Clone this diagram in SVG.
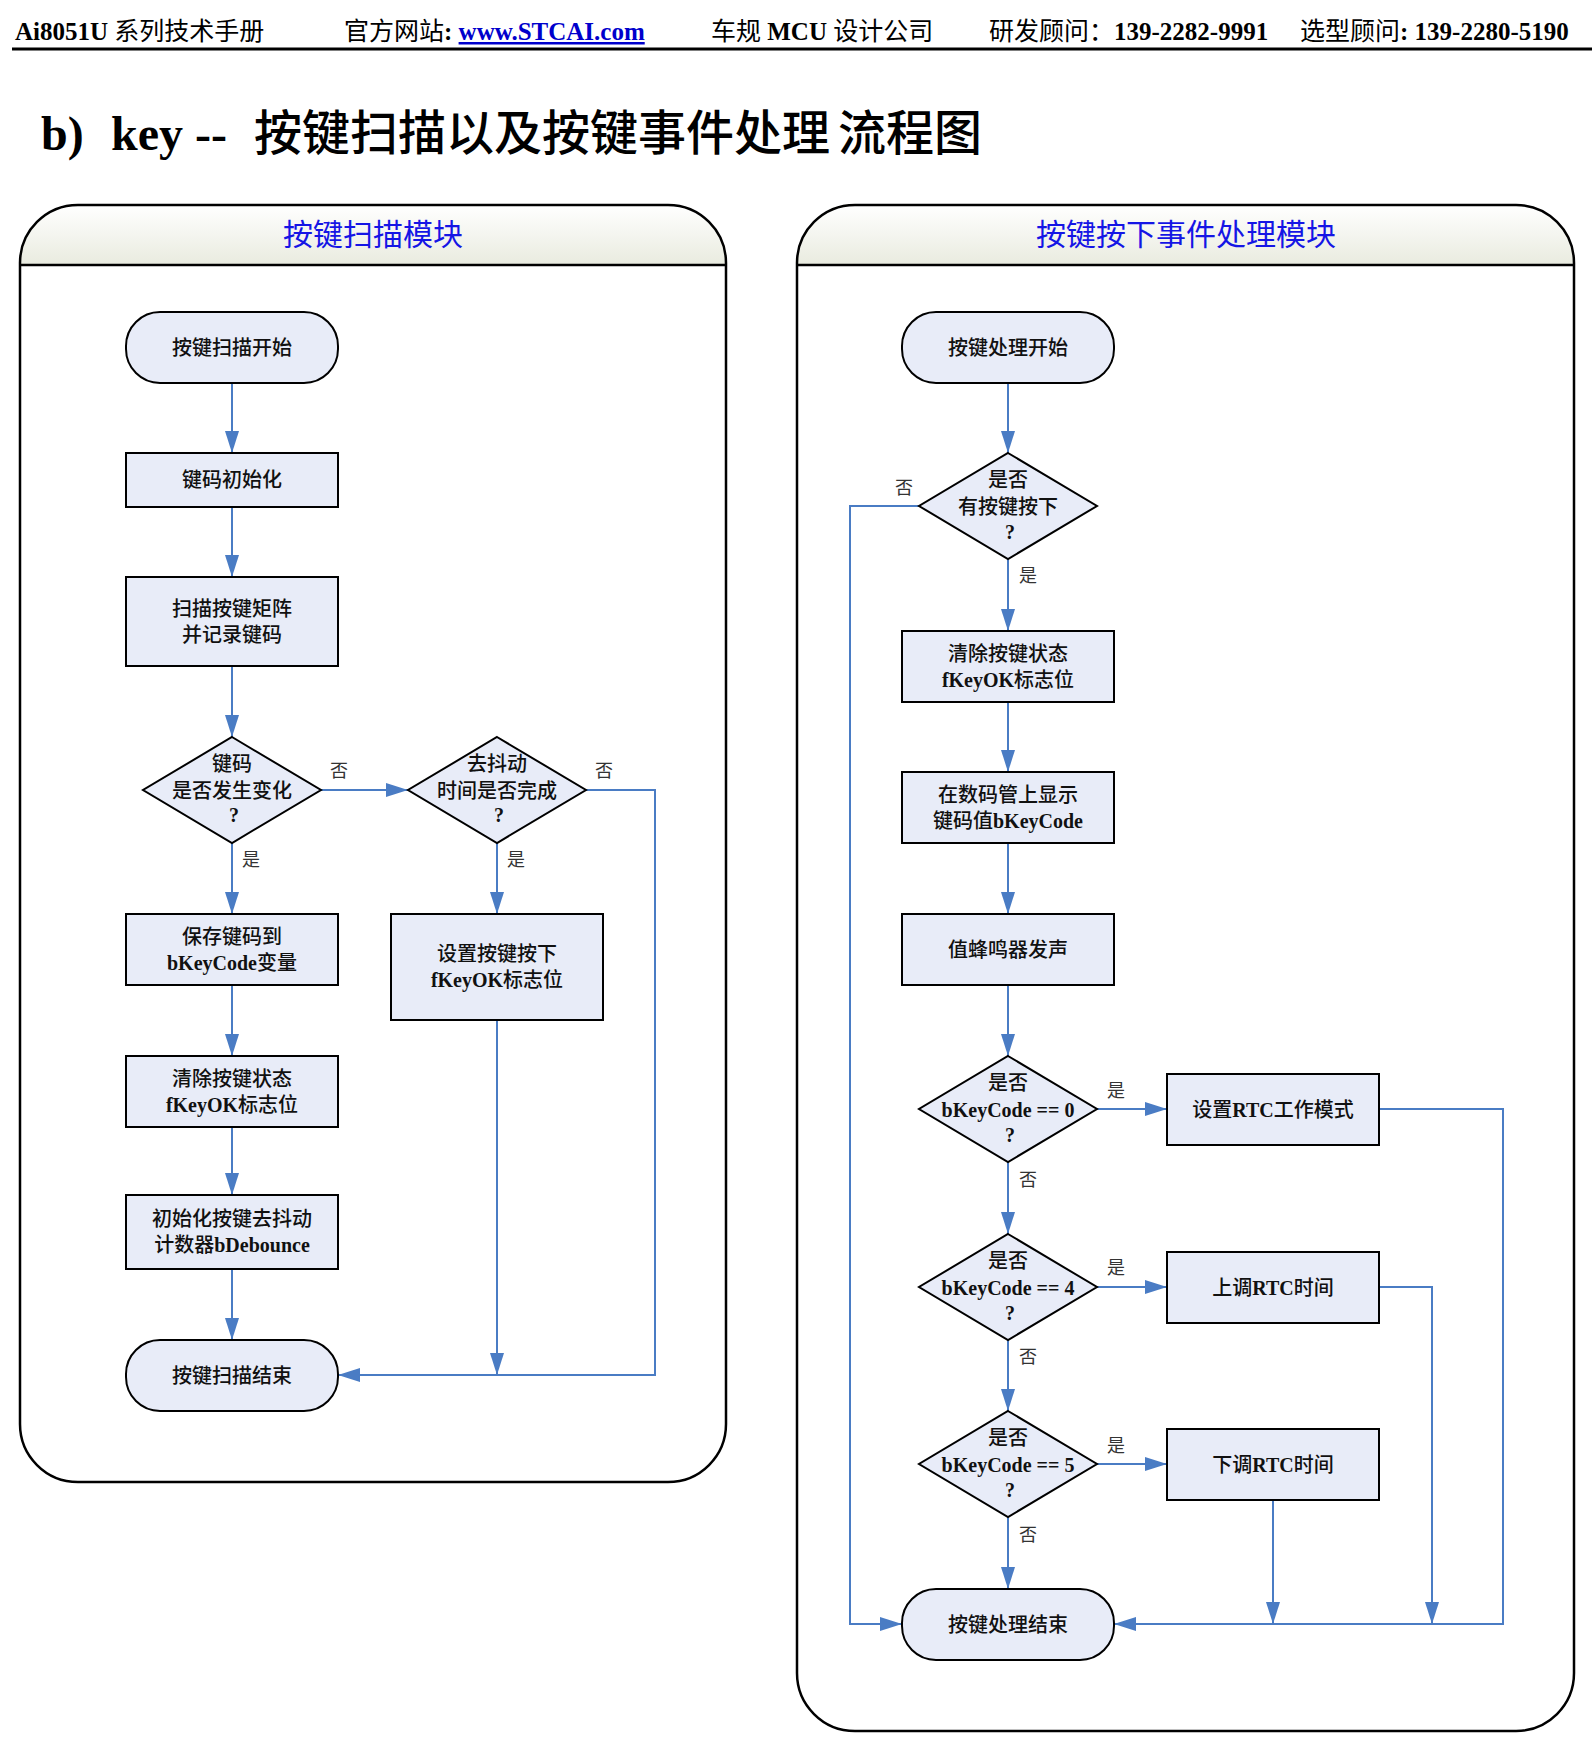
<svg xmlns="http://www.w3.org/2000/svg" width="1592" height="1745" viewBox="0 0 1592 1745">
<defs>
<linearGradient id="hdr" x1="0" y1="0" x2="0" y2="1">
<stop offset="0" stop-color="#ffffff"/>
<stop offset="1" stop-color="#e9ebdf"/>
</linearGradient>
<marker id="ah" viewBox="0 0 22 14" refX="22" refY="7" markerWidth="22" markerHeight="14" markerUnits="userSpaceOnUse" orient="auto">
<path d="M0,0 L22,7 L0,14 z" fill="#4a7cc4"/>
</marker>
</defs>
<style>
.panel{fill:none;stroke:#000;stroke-width:2.5}
.ph{fill:url(#hdr);stroke:none}
.div{stroke:#000;stroke-width:2.5}
.ptitle{font-family:"Noto Sans CJK SC",sans-serif;font-size:30px;fill:#1515e5;text-anchor:middle}
.node{fill:#e8ecf8;stroke:#000;stroke-width:2}
.t{font-family:"Liberation Serif","Noto Sans CJK SC",serif;font-size:20px;font-weight:500;fill:#111;text-anchor:middle}
.b{font-weight:bold}
.conn{fill:none;stroke:#4a7cc4;stroke-width:2}
.arr{marker-end:url(#ah)}
.lbl{font-family:"Noto Sans CJK SC",sans-serif;font-size:18px;fill:#333;text-anchor:middle}
.hd{font-family:"Liberation Serif","Noto Sans CJK SC",serif;font-size:25px;fill:#000}
.ttl{font-family:"Liberation Serif","Noto Sans CJK SC",serif;font-size:48px;fill:#000}
</style>
<rect width="1592" height="1745" fill="#fff"/>

<!-- page header -->
<g id="page-header">
<text class="hd" x="15" y="40"><tspan font-weight="bold">Ai8051U</tspan> 系列技术手册</text>
<text class="hd" x="344" y="40">官方网站<tspan font-weight="bold">: </tspan><tspan font-weight="bold" fill="#0000cc" text-decoration="underline">www.STCAI.com</tspan></text>
<text class="hd" x="711" y="40">车规 <tspan font-weight="bold">MCU</tspan> 设计公司</text>
<text class="hd" x="989" y="40">研发顾问：<tspan font-weight="bold">139-2282-9991</tspan></text>
<text class="hd" x="1300" y="40">选型顾问<tspan font-weight="bold">: 139-2280-5190</tspan></text>
<rect x="12" y="47.5" width="1580" height="3" fill="#000"/>
</g>

<g id="title">
<text class="ttl" x="41" y="150" font-weight="bold">b)</text>
<text class="ttl" x="111" y="150" font-weight="bold">key --</text>
<text class="ttl" x="254" y="150" font-size="43" font-weight="500">按键扫描以及按键事件处理</text>
<text class="ttl" x="838" y="150" font-size="44" font-weight="500">流程图</text>
</g>

<!-- panels -->
<g id="panel-left">
<path class="ph" d="M20,265 V263 A58,58 0 0 1 78,205 H668 A58,58 0 0 1 726,263 V265 Z"/>
<rect class="panel" x="20" y="205" width="706" height="1277" rx="58"/>
<line class="div" x1="20" y1="265" x2="726" y2="265"/>
<text class="ptitle" x="373" y="245">按键扫描模块</text>
</g>
<g id="panel-right">
<path class="ph" d="M797,265 V263 A58,58 0 0 1 855,205 H1516 A58,58 0 0 1 1574,263 V265 Z"/>
<rect class="panel" x="797" y="205" width="777" height="1526" rx="58"/>
<line class="div" x1="797" y1="265" x2="1574" y2="265"/>
<text class="ptitle" x="1186" y="245">按键按下事件处理模块</text>
</g>

<!-- connectors -->
<g id="connectors">
<path class="conn arr" d="M232,383 V453"/>
<path class="conn arr" d="M232,507 V577"/>
<path class="conn arr" d="M232,666 V737"/>
<path class="conn arr" d="M232,843 V914"/>
<path class="conn arr" d="M232,985 V1056"/>
<path class="conn arr" d="M232,1127 V1195"/>
<path class="conn arr" d="M232,1269 V1340"/>
<path class="conn arr" d="M321,790 H408"/>
<path class="conn arr" d="M497,843 V914"/>
<path class="conn arr" d="M497,1020 V1375"/>
<path class="conn arr" d="M586,790 H655 V1375 H338"/>

<path class="conn arr" d="M1008,383 V453"/>
<path class="conn arr" d="M919,506 H850 V1624 H902"/>
<path class="conn arr" d="M1008,559 V631"/>
<path class="conn arr" d="M1008,702 V772"/>
<path class="conn arr" d="M1008,843 V914"/>
<path class="conn arr" d="M1008,985 V1056"/>
<path class="conn arr" d="M1097,1109 H1167"/>
<path class="conn arr" d="M1008,1162 V1234"/>
<path class="conn arr" d="M1379,1109 H1503 V1624 H1114"/>
<path class="conn arr" d="M1097,1287 H1167"/>
<path class="conn arr" d="M1008,1340 V1411"/>
<path class="conn arr" d="M1379,1287 H1432 V1624"/>
<path class="conn arr" d="M1097,1464 H1167"/>
<path class="conn arr" d="M1008,1517 V1589"/>
<path class="conn arr" d="M1273,1500 V1624"/>

<text class="lbl" x="339" y="777">否</text>
<text class="lbl" x="251" y="866">是</text>
<text class="lbl" x="516" y="866">是</text>
<text class="lbl" x="604" y="777">否</text>

<text class="lbl" x="904" y="494">否</text>
<text class="lbl" x="1028" y="582">是</text>
<text class="lbl" x="1116" y="1097">是</text>
<text class="lbl" x="1028" y="1186">否</text>
<text class="lbl" x="1116" y="1274">是</text>
<text class="lbl" x="1028" y="1363">否</text>
<text class="lbl" x="1116" y="1452">是</text>
<text class="lbl" x="1028" y="1541">否</text>
</g>

<!-- left nodes -->
<g id="L_start"><rect class="node" x="126" y="312" width="212" height="71" rx="34"/><text class="t" x="232" y="354.5">按键扫描开始</text></g>
<g id="L_init"><rect class="node" x="126" y="453" width="212" height="54"/><text class="t" x="232" y="487">键码初始化</text></g>
<g id="L_scan"><rect class="node" x="126" y="577" width="212" height="89"/><text class="t" x="232" y="615.5">扫描按键矩阵</text><text class="t" x="232" y="641.5">并记录键码</text></g>
<g id="L_changed"><polygon class="node" points="232,737 321,790 232,843 143,790"/><text class="t" x="232" y="771">键码</text><text class="t" x="232" y="798">是否发生变化</text><text class="t b" x="234" y="822">?</text></g>
<g id="L_debdone"><polygon class="node" points="497,737 586,790 497,843 408,790"/><text class="t" x="497" y="771">去抖动</text><text class="t" x="497" y="798">时间是否完成</text><text class="t b" x="499" y="822">?</text></g>
<g id="L_save"><rect class="node" x="126" y="914" width="212" height="71"/><text class="t" x="232" y="943.5">保存键码到</text><text class="t" x="232" y="969.5"><tspan class="b">bKeyCode</tspan>变量</text></g>
<g id="L_clear"><rect class="node" x="126" y="1056" width="212" height="71"/><text class="t" x="232" y="1085.5">清除按键状态</text><text class="t" x="232" y="1111.5"><tspan class="b">fKeyOK</tspan>标志位</text></g>
<g id="L_initdeb"><rect class="node" x="126" y="1195" width="212" height="74"/><text class="t" x="232" y="1226">初始化按键去抖动</text><text class="t" x="232" y="1252">计数器<tspan class="b">bDebounce</tspan></text></g>
<g id="L_end"><rect class="node" x="126" y="1340" width="212" height="71" rx="34"/><text class="t" x="232" y="1382.5">按键扫描结束</text></g>
<g id="L_setok"><rect class="node" x="391" y="914" width="212" height="106"/><text class="t" x="497" y="960.5">设置按键按下</text><text class="t" x="497" y="987"><tspan class="b">fKeyOK</tspan>标志位</text></g>

<!-- right nodes -->
<g id="R_start"><rect class="node" x="902" y="312" width="212" height="71" rx="34"/><text class="t" x="1008" y="354.5">按键处理开始</text></g>
<g id="R_pressed"><polygon class="node" points="1008,453 1097,506 1008,559 919,506"/><text class="t" x="1008" y="487">是否</text><text class="t" x="1008" y="514">有按键按下</text><text class="t b" x="1010" y="539">?</text></g>
<g id="R_clear"><rect class="node" x="902" y="631" width="212" height="71"/><text class="t" x="1008" y="660.5">清除按键状态</text><text class="t" x="1008" y="686.5"><tspan class="b">fKeyOK</tspan>标志位</text></g>
<g id="R_show"><rect class="node" x="902" y="772" width="212" height="71"/><text class="t" x="1008" y="801.5">在数码管上显示</text><text class="t" x="1008" y="827.5">键码值<tspan class="b">bKeyCode</tspan></text></g>
<g id="R_beep"><rect class="node" x="902" y="914" width="212" height="71"/><text class="t" x="1008" y="956.5">值蜂鸣器发声</text></g>
<g id="R_k0"><polygon class="node" points="1008,1056 1097,1109 1008,1162 919,1109"/><text class="t" x="1008" y="1090">是否</text><text class="t b" x="1008" y="1117">bKeyCode == 0</text><text class="t b" x="1010" y="1142">?</text></g>
<g id="R_mode"><rect class="node" x="1167" y="1074" width="212" height="71"/><text class="t" x="1273" y="1116.5">设置<tspan class="b">RTC</tspan>工作模式</text></g>
<g id="R_k4"><polygon class="node" points="1008,1234 1097,1287 1008,1340 919,1287"/><text class="t" x="1008" y="1268">是否</text><text class="t b" x="1008" y="1295">bKeyCode == 4</text><text class="t b" x="1010" y="1320">?</text></g>
<g id="R_up"><rect class="node" x="1167" y="1252" width="212" height="71"/><text class="t" x="1273" y="1294.5">上调<tspan class="b">RTC</tspan>时间</text></g>
<g id="R_k5"><polygon class="node" points="1008,1411 1097,1464 1008,1517 919,1464"/><text class="t" x="1008" y="1445">是否</text><text class="t b" x="1008" y="1472">bKeyCode == 5</text><text class="t b" x="1010" y="1497">?</text></g>
<g id="R_down"><rect class="node" x="1167" y="1429" width="212" height="71"/><text class="t" x="1273" y="1471.5">下调<tspan class="b">RTC</tspan>时间</text></g>
<g id="R_end"><rect class="node" x="902" y="1589" width="212" height="71" rx="34"/><text class="t" x="1008" y="1631.5">按键处理结束</text></g>
</svg>
